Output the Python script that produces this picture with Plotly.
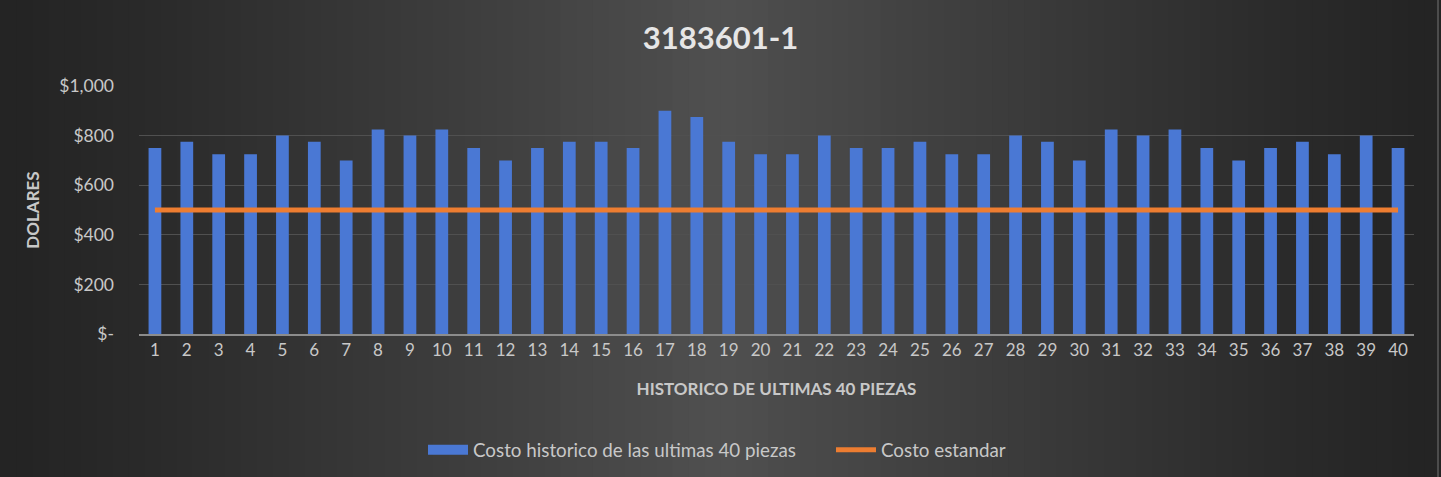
import plotly.graph_objects as go

# ---- data ----
piezas = list(range(1, 41))
costo_historico = [750, 775, 725, 725, 800, 775, 700, 825, 800, 825,
                   750, 700, 750, 775, 775, 750, 900, 875, 775, 725,
                   725, 800, 750, 750, 775, 725, 725, 800, 775, 700,
                   825, 800, 825, 750, 700, 750, 775, 725, 800, 750]
costo_estandar = [500] * 40
y_tickvals = [0, 200, 400, 600, 800, 1000]
y_ticktext = ["$-", "$200", "$400", "$600", "$800", "$1,000"]

title_text = "3183601-1"
x_title = "HISTORICO DE ULTIMAS 40 PIEZAS"
y_title = "DOLARES"
name_bar = "Costo historico de las ultimas 40 piezas"
name_line = "Costo estandar"

FONT = "Lato, 'Open Sans', sans-serif"
TXT = "#c8c8c8"
BLUE = "#4a78d4"
ORANGE = "#ed7d31"

W, H = 1441, 477
ML, MR, MT, MB = 139, 27, 86, 143
PW = W - ML - MR
PH = H - MT - MB

fig = go.Figure()
fig.add_trace(go.Bar(
    x=piezas, y=costo_historico, name=name_bar, showlegend=False,
    marker=dict(color=BLUE, line=dict(width=0)),
    width=0.4,
))
# legend-only swatch for the bars (wide rectangle)
fig.add_trace(go.Scatter(
    x=[None], y=[None], name=name_bar, mode="lines",
    line=dict(color=BLUE, width=11),
))
fig.add_trace(go.Scatter(
    x=piezas, y=costo_estandar, name=name_line, mode="lines",
    line=dict(color=ORANGE, width=5),
))


def px2paper_x(px):
    return (px - ML) / PW


def px2paper_y(py_from_top):
    return (H - MB - py_from_top) / PH


# background gradient (lighter in centre, darker at edges)
shapes = []
n = 90
dark = (36, 36, 36)
light = (80, 80, 80)
for i in range(n):
    a = W * i / n
    b = W * (i + 1) / n
    xc = (a + b) / 2 / W
    t = max(0.0, 1 - abs(xc - 0.5) * 2) ** 1.2
    c = tuple(int(dark[k] + (light[k] - dark[k]) * t) for k in range(3))
    shapes.append(dict(type="rect", xref="paper", yref="paper",
                       x0=px2paper_x(a), x1=px2paper_x(b + 1),
                       y0=px2paper_y(H + 5), y1=px2paper_y(-5), layer="below",
                       line=dict(width=0),
                       fillcolor="rgb(%d,%d,%d)" % c))
# thin frame line on right edge
shapes.append(dict(type="line", xref="paper", yref="paper",
                   x0=px2paper_x(1438), x1=px2paper_x(1438),
                   y0=px2paper_y(H), y1=px2paper_y(0), layer="below",
                   line=dict(color="#5a5a5a", width=1.5)))

fig.update_layout(
    width=W, height=H,
    margin=dict(l=ML, r=MR, t=MT, b=MB),
    paper_bgcolor="#2e2e2e",
    plot_bgcolor="rgba(0,0,0,0)",
    shapes=shapes,
    font=dict(family=FONT, color=TXT, size=16),
    title=dict(text="<b>" + title_text + "</b>", x=0.5, xanchor="center",
               y=1 - 38 / H, yanchor="middle",
               font=dict(size=31, color="#e6e6e6", family=FONT)),
    showlegend=True,
    legend=dict(orientation="h", x=px2paper_x(423), xanchor="left",
                yref="container", y=1 - 450 / H, yanchor="middle",
                font=dict(size=18.8, color=TXT), bgcolor="rgba(0,0,0,0)",
                itemwidth=40, traceorder="normal",
                entrywidth=353, entrywidthmode="pixels"),
    xaxis=dict(range=[0.5, 40.5], tickmode="array", tickvals=piezas,
               ticktext=[str(p) for p in piezas], showgrid=False,
               showline=True, linecolor="#8c8c8c", linewidth=1.5,
               ticks="", tickfont=dict(size=17, color=TXT),
               title=dict(text="<b>" + x_title + "</b>", standoff=24,
                          font=dict(size=17, color=TXT)),
               zeroline=False),
    yaxis=dict(range=[0, 1000], tickmode="array", tickvals=y_tickvals,
               ticktext=y_ticktext, showgrid=True, gridcolor="#505050",
               gridwidth=1, zeroline=False, showline=False, ticks="",
               ticklabelstandoff=24,
               tickfont=dict(size=17.5, color=TXT),
               title=dict(text="<b>" + y_title + "</b>", standoff=15,
                          font=dict(size=17, color=TXT))),
)

fig.write_html("out.html")
